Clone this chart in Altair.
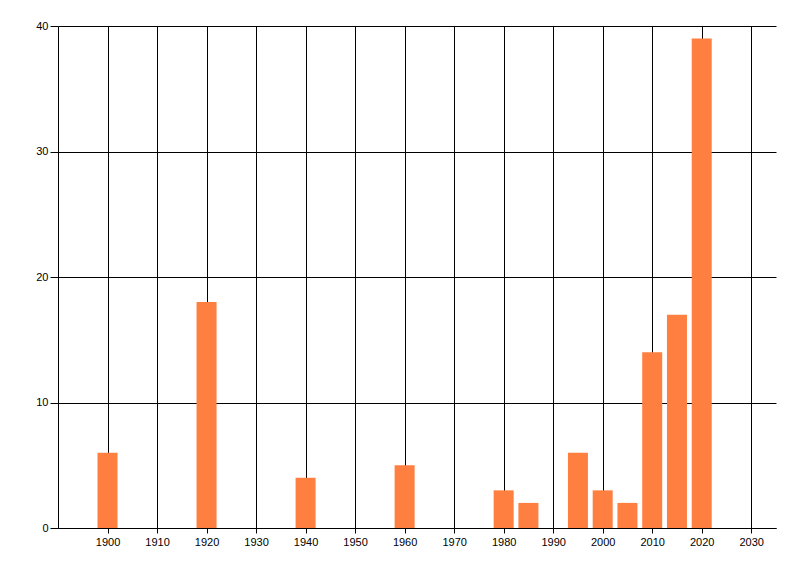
import pandas as pd
import altair as alt

# values
years = [1900, 1920, 1940, 1960, 1980, 1985, 1995, 2000, 2005, 2010, 2015, 2020]
counts = [6, 18, 4, 5, 3, 2, 6, 3, 2, 14, 17, 39]
x_ticks = list(range(1900, 2031, 10))
y_ticks = [0, 10, 20, 30, 40]

df = pd.DataFrame({'year': years, 'count': counts})

font = 'Liberation Sans'

chart = (
    alt.Chart(df)
    .mark_bar(size=20, color='#FF7F40')
    .encode(
        x=alt.X('year:Q', title=None,
                scale=alt.Scale(domain=[1890, 2035], nice=False, zero=False, padding=0),
                axis=alt.Axis(values=x_ticks, format='d', grid=True, gridColor='black',
                              gridOpacity=1, domainColor='black', tickColor='black',
                              tickSize=5, labelPadding=3, labelFont=font, labelFontSize=11,
                              labelColor='black', labelFlush=False)),
        y=alt.Y('count:Q', title=None,
                scale=alt.Scale(domain=[0, 40], nice=False),
                axis=alt.Axis(values=y_ticks, grid=True, gridColor='black', gridOpacity=1,
                              domainColor='black', tickColor='black', tickSize=8,
                              labelPadding=2, labelFont=font, labelFontSize=11,
                              labelColor='black', labelFlush=False)),
    )
    .properties(width=718, height=502, autosize='none',
                padding={'left': 50, 'top': 18, 'right': 10, 'bottom': 40})
    .configure_view(stroke=None)
)

chart.save("out.html", embed_options={"renderer": "svg", "actions": False})
